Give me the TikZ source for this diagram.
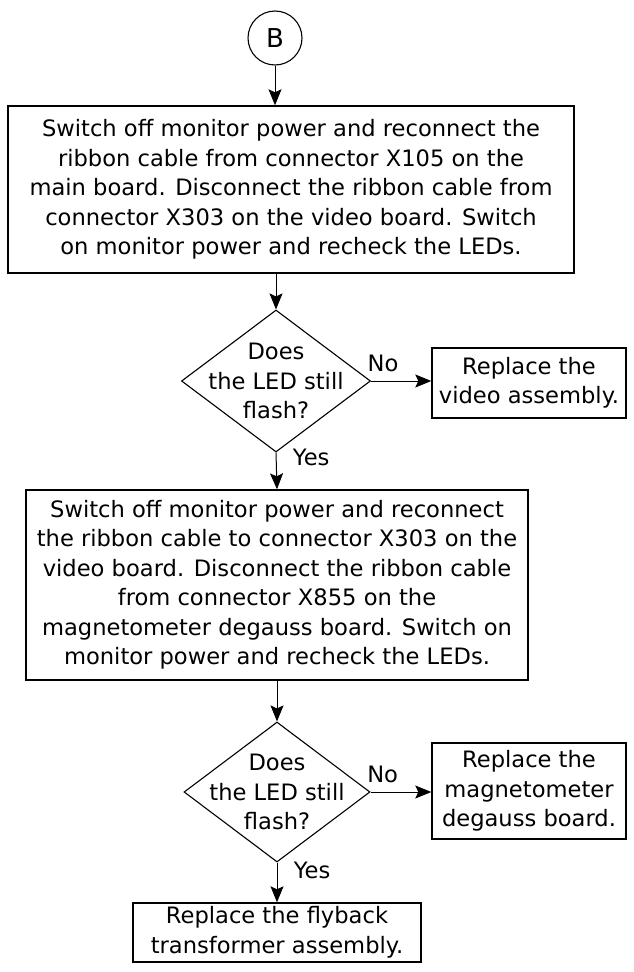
\documentclass[tikz,border=0pt]{standalone}
\usepackage{fontspec}
\setmainfont{DejaVu Sans}
\usetikzlibrary{arrows.meta, positioning, shapes.geometric}

\tikzset{
	stepbox/.style={draw,line width=1.4pt,align=center,inner sep=0pt},
	decision/.style={diamond,draw,line width=1.1pt,inner sep=0pt},
	flow/.style={-{Stealth[length=16pt,width=13pt,inset=3pt]},line width=1pt}
}

\begin{document}
\begin{tikzpicture}[x=1pt,y=-1pt,font=\fontsize{22.6}{29.5}\selectfont]
	\useasboundingbox (0,0) rectangle (634,972);

	% Connector
	\node (start) at (275,38) [draw,circle,line width=1.1pt,minimum size=54pt,inner sep=0pt,
		font=\fontsize{26}{30}\selectfont] {B};

	% First check
	\node (step1) at (291,189.5) [stepbox,minimum width=566pt,minimum height=167pt]
		{Switch off monitor power and reconnect the\\ribbon cable from connector X105 on the\\main board. Disconnect the ribbon cable from\\connector X303 on the video board. Switch\\on monitor power and recheck the LEDs.};
	\node (check1) at (276,381) [decision,minimum width=189pt,minimum height=142pt,
		label={[align=center]center:Does\\the LED still\\flash?}] {};
	\node (fix1) at (529,383) [stepbox,minimum width=194pt,minimum height=70pt]
		{Replace the\\video assembly.};

	% Second check
	\node (step2) at (277,585) [stepbox,minimum width=502pt,minimum height=190pt]
		{Switch off monitor power and reconnect\\the ribbon cable to connector X303 on the\\video board. Disconnect the ribbon cable\\from connector X855 on the\\magnetometer degauss board. Switch on\\monitor power and recheck the LEDs.};
	\node (check2) at (277,792) [decision,minimum width=186pt,minimum height=140pt,
		label={[align=center]center:Does\\the LED still\\flash?}] {};
	\node (fix2) at (529,791) [stepbox,minimum width=194pt,minimum height=96pt]
		{Replace the\\magnetometer\\degauss board.};
	\node (fix3) at (277,932.5) [stepbox,minimum width=288pt,minimum height=59pt]
		{Replace the flyback\\transformer assembly.};

	% Arrows
	\draw[flow] (start.south) -- (start.south |- step1.north);
	\draw[flow] (step1.south -| check1.north) -- (check1.north);
	\draw[flow] (check1.east) -- (check1.east -| fix1.west) node[pos=0.2,above=5pt] {No};
	\draw[flow] (check1.south) -- (step2.north) node[pos=0.12,right=13pt] {Yes};
	\draw[flow] (step2.south) -- (check2.north);
	\draw[flow] (check2.east) -- (check2.east -| fix2.west) node[pos=0.2,above=5pt] {No};
	\draw[flow] (check2.south) -- (fix3.north) node[pos=0.2,right=13pt] {Yes};
\end{tikzpicture}
\end{document}
